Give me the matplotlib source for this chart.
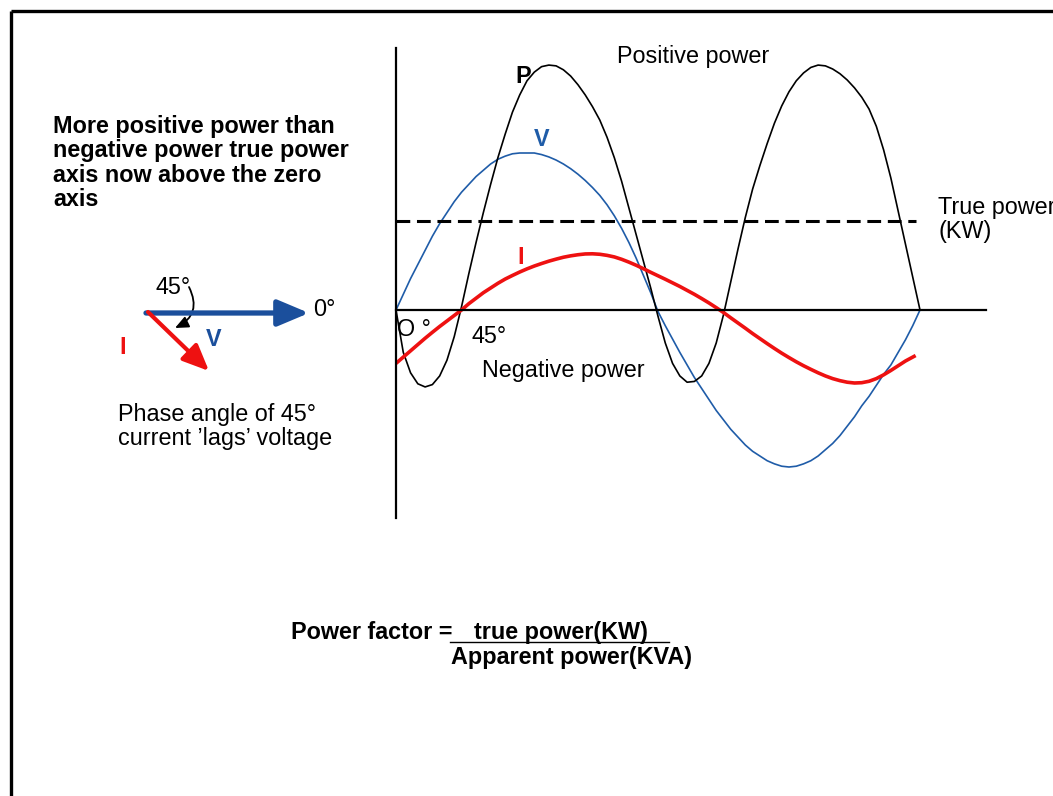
import matplotlib.pyplot as plt
from matplotlib.patches import FancyArrowPatch

plt.rcParams["font.family"] = ["Liberation Sans", "DejaVu Sans"]

# ── Wave data (degrees, relative amplitude; V peak = 100) ───────────────
ANGLES = list(range(0, 365, 5))
V_VALUES = [0, 10, 20, 29, 38, 47, 55, 62, 69, 75, 80, 85, 89, 93, 96, 98,
            99.5, 100, 100, 100, 99, 97.5, 95.5, 93, 90, 86.5, 82.5, 78, 73,
            67, 60, 52, 43, 33, 22, 11, -1, -10, -18.5, -27, -35, -43, -50,
            -57, -64, -70, -76, -81, -86, -90, -93, -96, -98, -99.5, -100,
            -99.5, -98, -96, -93, -89, -85, -80, -74, -68, -61, -55, -48, -41,
            -35, -27, -19, -10, 0]
P_VALUES = [0, -27, -40, -47, -49, -47.5, -42, -32, -17, 2, 23, 43, 62, 80, 97,
            112, 126, 137, 146, 151.5, 155, 156, 155.5, 153, 149, 143.5, 137,
            129.5, 121, 110, 97, 82, 65, 48, 31, 14, -4, -21, -34, -42, -46,
            -45.5, -42, -34, -21, -3, 18, 39, 59, 77, 92, 106, 119, 130, 139,
            146, 151, 154.5, 156, 155.5, 153.5, 150.5, 146.5, 141.5, 135.5,
            128, 117, 102, 84, 63, 42, 21, 0]
I_ANGLES = list(range(0, 360, 5)) + [357]
I_VALUES = [-34, -30, -26, -22, -18, -14.2, -10.5, -7, -3.5, 0, 4, 7.5, 11, 14,
            17, 19.7, 22, 24.2, 26.2, 28, 29.6, 31.1, 32.4, 33.6, 34.5, 35.2,
            35.7, 35.8, 35.5, 34.8, 33.8, 32.3, 30.5, 28.5, 26.3, 24, 21.8,
            19.6, 17.3, 15, 12.5, 10, 7.3, 4.5, 1.5, -1.6, -5, -8.3, -11.6,
            -15, -18.2, -21.4, -24.5, -27.5, -30.3, -33, -35.5, -37.8, -40,
            -42, -43.7, -45, -46, -46.5, -46.3, -45.4, -43.7, -41.3, -38.5,
            -35.5, -32.5, -30, -29]
TRUE_POWER = 57
TRUE_POWER_SPAN = [0, 357]

W, H = 1053, 796
fig = plt.figure(figsize=(W / 100, H / 100), dpi=100)

# background axes in pixel coordinates (frame, labels, phasor sketch)
bg = fig.add_axes([0, 0, 1, 1])
bg.set_xlim(0, W)
bg.set_ylim(H, 0)
bg.axis("off")

bg.plot([11, W], [11, 11], color="black", lw=2.4, solid_capstyle="butt")
bg.plot([11, 11], [11, H], color="black", lw=2.4, solid_capstyle="butt")

# ── Wave axes ───────────────────────────────────────────────────────────
x0_px, x1_px, y_top, y_bot, y_zero = 396, 985.5, 48, 518, 310
px_per_deg = (920 - 396) / 360
px_per_unit = 1.57
ax = fig.add_axes([x0_px / W, 1 - y_bot / H, (x1_px - x0_px) / W, (y_bot - y_top) / H])
ax.set_xlim(0, (x1_px - x0_px) / px_per_deg)
ax.set_ylim(-(y_bot - y_zero) / px_per_unit, (y_zero - y_top) / px_per_unit)
ax.patch.set_alpha(0)
for side in ("top", "right"):
    ax.spines[side].set_visible(False)
ax.spines["left"].set_linewidth(1.6)
ax.spines["bottom"].set_position(("data", 0))
ax.spines["bottom"].set_linewidth(1.6)
ax.set_xticks([])
ax.set_yticks([])

ax.plot(ANGLES, V_VALUES, color="#1f5ca8", lw=1.2)
ax.plot(ANGLES, P_VALUES, color="black", lw=1.2)
ax.plot(I_ANGLES, I_VALUES, color="#ee1111", lw=2.6, solid_capstyle="butt")
ax.plot(TRUE_POWER_SPAN, [TRUE_POWER, TRUE_POWER], color="black", lw=2.2,
        dashes=(4.5, 2.2))

# ── Text ────────────────────────────────────────────────────────────────
FS = 16.8
bold_lines = ["More positive power than", "negative power true power",
              "axis now above the zero", "axis"]
for i, line in enumerate(bold_lines):
    bg.text(53, 133 + i * 24.3, line, fontsize=FS, fontweight="bold", va="baseline")

bg.text(523, 83, "P", fontsize=FS, fontweight="bold", ha="center", va="baseline")
bg.text(542, 146, "V", fontsize=FS, fontweight="bold", color="#1f5ca8",
        ha="center", va="baseline")
bg.text(521, 264, "I", fontsize=FS, fontweight="bold", color="#ee1111",
        ha="center", va="baseline")
bg.text(617, 63, "Positive power", fontsize=FS, va="baseline")
bg.text(938, 214, "True power", fontsize=FS, va="baseline")
bg.text(938, 238, "(KW)", fontsize=FS, va="baseline")
bg.text(397, 336, "O °", fontsize=FS, va="baseline")
bg.text(472, 343, "45°", fontsize=FS, va="baseline")
bg.text(482, 377, "Negative power", fontsize=FS, va="baseline")

# phasor sketch
bg.annotate("", xy=(309, 313), xytext=(146, 313),
            arrowprops=dict(arrowstyle="-|>,head_length=0.95,head_width=0.4",
                            lw=3.8, color="#1b4f9c", mutation_scale=20,
                            shrinkA=0, shrinkB=0))
bg.annotate("", xy=(209, 371), xytext=(148, 312),
            arrowprops=dict(arrowstyle="-|>,head_length=0.8,head_width=0.35",
                            lw=3.0, color="#ee1111", mutation_scale=20,
                            shrinkA=0, shrinkB=0))
bg.add_patch(FancyArrowPatch((189, 287), (175, 328),
                             connectionstyle="arc3,rad=-0.5",
                             arrowstyle="-|>,head_length=0.8,head_width=0.35",
                             mutation_scale=10, lw=1.3, color="black",
                             shrinkA=0, shrinkB=0))
bg.text(155, 294, "45°", fontsize=FS, va="baseline")
bg.text(313, 316, "0°", fontsize=FS, va="baseline")
bg.text(214, 346, "V", fontsize=FS, fontweight="bold", color="#1b4f9c",
        ha="center", va="baseline")
bg.text(123, 354, "I", fontsize=FS, fontweight="bold", color="#ee1111",
        ha="center", va="baseline")
bg.text(118, 421, "Phase angle of 45°", fontsize=FS, va="baseline")
bg.text(118, 445, "current ’lags’ voltage", fontsize=FS, va="baseline")

# power factor formula
bg.text(291, 639, "Power factor =", fontsize=FS, fontweight="bold", va="baseline")
bg.text(561, 639, "true power(KW)", fontsize=FS, fontweight="bold",
        ha="center", va="baseline")
bg.plot([450, 669], [642, 642], color="black", lw=1.0)
bg.text(451, 664, "Apparent power(KVA)", fontsize=FS, fontweight="bold",
        va="baseline")

fig.savefig("out.png", dpi=100)
